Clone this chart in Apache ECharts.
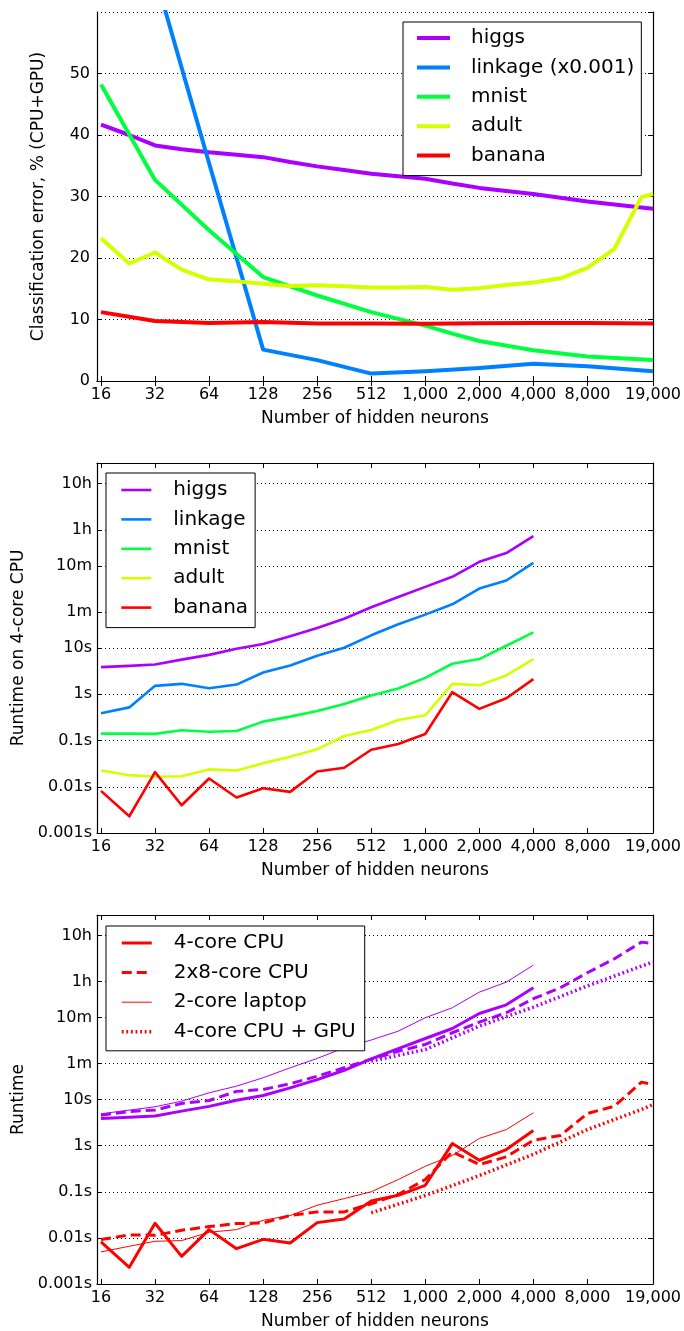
<!DOCTYPE html>
<html>
<head>
<meta charset="utf-8">
<title>Hidden neurons: error and runtime</title>
<script src="https://cdn.jsdelivr.net/npm/echarts@6/dist/echarts.min.js"></script>
<style>
  html, body { margin: 0; padding: 0; background: #fff; }
  #chart { width: 684px; height: 1331px; }
</style>
</head>
<body>
<div id="chart"></div>
<script>
// Hidden-layer sizes (half-octave steps, last one capped at 19,000)
const neurons = [16, 23, 32, 45, 64, 91, 128, 181, 256, 362, 512, 724, 1024, 1448,
  2048, 2896, 4096, 5793, 8192, 11585, 16384, 19000];

// Tick positions and labels on the neuron axis
const neuronTicks = [16, 32, 64, 128, 256, 512, 1024, 2048, 4096, 8192, 19000];
const neuronTickLabels = ['16', '32', '64', '128', '256', '512', '1,000', '2,000', '4,000', '8,000', '19,000'];

// Runtime axis ticks (seconds) and labels
const runtimeTicks = [0.001, 0.01, 0.1, 1, 10, 60, 600, 3600, 36000];
const runtimeTickLabels = ['0.001s', '0.01s', '0.1s', '1s', '10s', '1m', '10m', '1h', '10h'];

// Classification error, % (null = no reading at that size)
const errHiggs = [41.7, 40.0, 38.3, 37.7, 37.2, 36.8, 36.4, 35.6, 34.9, 34.3, 33.7, 33.3, 32.9, 32.1, 31.4, 30.9, 30.4, 29.8, 29.2, 28.7, 28.2, 28.0];
const errLinkage = [null, null, 66, null, 35.4, null, 5.1, null, 3.4, null, 1.2, null, 1.6, null, 2.1, null, 2.8, null, 2.4, null, null, 1.6];
const errMnist = [48.2, null, 32.7, null, 24.5, null, 16.9, null, 13.9, null, 11.2, null, 9.0, 7.7, 6.5, null, 5.0, null, 4.0, null, null, 3.4];
const errAdult = [23.2, 19.1, 20.9, 18.1, 16.5, 16.2, 15.8, 15.45, 15.55, 15.4, 15.2, 15.2, 15.3, 14.85, 15.1, 15.6, 16.0, 16.7, 18.4, 21.5, 29.9, 30.4];
const errBanana = [11.2, null, 9.75, null, 9.45, null, 9.6, null, 9.35, null, 9.35, null, 9.3, null, 9.4, null, 9.45, null, 9.45, null, null, 9.35];

// Runtime on 4-core CPU, seconds (16 .. 4,096 neurons)
const rtHiggs = [3.86, 4.1, 4.4, 5.6, 7.1, 9.6, 12.2, 17.9, 27, 43, 76, 127, 210, 346, 731, 1127, 2636];
const rtLinkage = [0.39, 0.52, 1.52, 1.68, 1.35, 1.62, 2.96, 4.2, 6.8, 10.1, 18.8, 32.5, 52.7, 88, 193, 288, 695];
const rtMnist = [0.141, 0.141, 0.139, 0.166, 0.155, 0.16, 0.256, 0.328, 0.436, 0.618, 0.94, 1.33, 2.26, 4.56, 5.76, 11.2, 21.8];
const rtAdult = [0.0225, 0.0178, 0.0164, 0.0169, 0.0237, 0.0225, 0.0324, 0.0446, 0.0643, 0.125, 0.169, 0.278, 0.351, 1.68, 1.57, 2.55, 5.76];
const rtBanana = [0.00815, 0.0023, 0.0207, 0.00398, 0.0151, 0.00584, 0.0093, 0.00775, 0.0214, 0.0257, 0.0631, 0.0838, 0.138, 1.107, 0.482, 0.82, 2.12];

// Runtime on other hardware, seconds
const higgsDual8 = [4.57, 5.5, 5.9, 8.2, 9.5, 15, 16.5, 21.9, 32, 48.7, 75, 111, 156, 280, 475, 760, 1530, 2650, 5600, 11270, 25800, 23800];
const higgsLaptop = [4.9, null, 6.95, 9.2, 13.96, 19.5, 29.6, 48.7, 77.5, 132, 195, 303, 592, 975, 2127, 3505, 8180];
const higgsGpu = [67.8, null, 121, null, 389, null, 1005, null, 2900, null, 7800, 9500];     // from 512 neurons
const bananaDual8 = [0.0092, 0.0116, 0.0114, 0.0146, 0.0176, 0.0204, 0.0211, 0.0305, 0.0366, 0.0366, 0.055, 0.087, 0.184, 0.735, 0.389, 0.571, 1.31, 1.66, 4.97, 7.16, 23.8, 21.1];
const bananaLaptop = [0.00497, 0.00658, 0.00844, 0.00873, 0.01324, 0.0151, 0.0241, 0.0305, 0.051, 0.0711, 0.1, 0.184, 0.357, 0.61, 1.43, 2.23, 5.15];
const bananaGpu = [0.0349, null, 0.0828, null, 0.224, null, 0.65, null, 2.23, null, 6.07, 7.79]; // from 512 neurons
const gpuStart = 10; // index of 512 in neurons

const PURPLE = '#aa00ff', BLUE = '#0080ff', GREEN = '#00ff40', YELLOW = '#d5ff00', RED = '#ff0000';
const FONT = 'DejaVu Sans';

function pairs(values, offset) {
  const out = [];
  values.forEach((v, i) => { if (v !== null) out.push([neurons[i + (offset || 0)], v]); });
  return out;
}
function lookup(ticks, labels, v) {
  const i = ticks.findIndex(t => Math.abs(t - v) / t < 1e-6);
  return i < 0 ? '' : labels[i];
}

const grids = [
  { left: 97, top: 12, width: 556, height: 369 },
  { left: 97, top: 463, width: 556, height: 370 },
  { left: 97, top: 915, width: 556, height: 369.5 }
];

const tickStyle = { inside: true, length: 5, lineStyle: { color: '#000', width: 1 } };
const lineBlack = { lineStyle: { color: '#000', width: 1.2 } };
const gridDots = { show: true, lineStyle: { color: '#000', width: 1, type: [1, 3] } };

const xAxes = [];
const yAxes = [];
grids.forEach((g, gi) => {
  const xBase = { type: 'log', logBase: 2, gridIndex: gi, min: 15.2, max: 19000,
    axisLine: lineBlack, splitLine: { show: false } };
  xAxes.push(Object.assign({}, xBase, {
    position: 'bottom',
    name: 'Number of hidden neurons', nameLocation: 'middle', nameGap: 29,
    nameTextStyle: { fontSize: 17, color: '#000', fontFamily: FONT },
    axisTick: Object.assign({ customValues: neuronTicks }, tickStyle),
    axisLabel: { customValues: neuronTicks, margin: 6, fontSize: 16, color: '#000', fontFamily: FONT,
      formatter: v => lookup(neuronTicks, neuronTickLabels, v) }
  }));
  xAxes.push(Object.assign({}, xBase, {
    position: 'top',
    axisTick: Object.assign({ customValues: neuronTicks }, tickStyle),
    axisLabel: { show: false }
  }));

  if (gi === 0) {
    const yBase = { type: 'value', gridIndex: gi, min: 0, max: 60, interval: 10, axisLine: lineBlack };
    yAxes.push(Object.assign({}, yBase, {
      position: 'left',
      name: 'Classification error, % (CPU+GPU)', nameLocation: 'middle', nameGap: 50, nameRotate: 90,
      nameTextStyle: { fontSize: 17, color: '#000', fontFamily: FONT },
      axisTick: tickStyle,
      axisLabel: { showMaxLabel: false, margin: 7, fontSize: 16, color: '#000', fontFamily: FONT },
      splitLine: gridDots
    }));
    yAxes.push(Object.assign({}, yBase, {
      position: 'right', axisTick: tickStyle, axisLabel: { show: false }, splitLine: { show: false }
    }));
  } else {
    const yBase = { type: 'log', logBase: 10, gridIndex: gi, min: 0.001, max: 100000, axisLine: lineBlack };
    yAxes.push(Object.assign({}, yBase, {
      position: 'left',
      name: gi === 1 ? 'Runtime on 4-core CPU' : 'Runtime', nameLocation: 'middle', nameGap: 70, nameRotate: 90,
      nameTextStyle: { fontSize: 17, color: '#000', fontFamily: FONT },
      axisTick: Object.assign({ customValues: runtimeTicks }, tickStyle),
      axisLabel: { customValues: runtimeTicks, margin: 5, fontSize: 16, color: '#000', fontFamily: FONT,
        formatter: v => lookup(runtimeTicks, runtimeTickLabels, v) },
      splitLine: gridDots
    }));
    yAxes.push(Object.assign({}, yBase, {
      position: 'right',
      axisTick: Object.assign({ customValues: runtimeTicks }, tickStyle),
      axisLabel: { show: false }, splitLine: { show: false }
    }));
  }
});

function line(name, data, grid, color, width, type) {
  return {
    type: 'line', name, data, xAxisIndex: grid * 2, yAxisIndex: grid * 2,
    symbol: 'none', silent: true, clip: true,
    lineStyle: { color, width, type: type || 'solid', join: 'round' },
    itemStyle: { color }
  };
}

const DASH = [10, 5], DOT = [1.8, 2.8];

const series = [
  // error vs size
  line('higgs', pairs(errHiggs), 0, PURPLE, 4),
  line('linkage (x0.001)', pairs(errLinkage), 0, BLUE, 4),
  line('mnist', pairs(errMnist), 0, GREEN, 4),
  line('adult', pairs(errAdult), 0, YELLOW, 4),
  line('banana', pairs(errBanana), 0, RED, 4),
  // runtime on 4-core CPU
  line('higgs@cpu4', pairs(rtHiggs), 1, PURPLE, 2.6),
  line('linkage@cpu4', pairs(rtLinkage), 1, BLUE, 2.6),
  line('mnist@cpu4', pairs(rtMnist), 1, GREEN, 2.6),
  line('adult@cpu4', pairs(rtAdult), 1, YELLOW, 2.6),
  line('banana@cpu4', pairs(rtBanana), 1, RED, 2.6),
  // runtime across hardware
  line('higgs@laptop', pairs(higgsLaptop), 2, PURPLE, 1),
  line('higgs@dual8', pairs(higgsDual8), 2, PURPLE, 3, DASH),
  line('higgs@gpu', pairs(higgsGpu, gpuStart), 2, PURPLE, 3.5, DOT),
  line('higgs@cpu4b', pairs(rtHiggs), 2, PURPLE, 3),
  line('2-core laptop', pairs(bananaLaptop), 2, RED, 1),
  line('2x8-core CPU', pairs(bananaDual8), 2, RED, 3, DASH),
  line('4-core CPU + GPU', pairs(bananaGpu, gpuStart), 2, RED, 3.5, DOT),
  line('4-core CPU', pairs(rtBanana), 2, RED, 3)
];

function legendBox(data, left, top, padding, itemWidth, textPad, gap) {
  return {
    data, orient: 'vertical', left, top, padding, itemWidth, itemHeight: 14, itemGap: gap,
    borderColor: '#000', borderWidth: 1, borderRadius: 0, backgroundColor: '#fff',
    selectedMode: false,
    // line sample only, drawn with the series' own width and dash
    itemStyle: { opacity: 0 },
    lineStyle: { width: 'inherit', type: 'inherit' },
    formatter: n => n.split('@')[0],
    textStyle: { fontSize: 20, lineHeight: 20, color: '#000', fontFamily: FONT, padding: [0, 0, 0, textPad] }
  };
}

const option = {
  animation: false,
  backgroundColor: '#fff',
  textStyle: { fontFamily: FONT },
  grid: grids,
  xAxis: xAxes,
  yAxis: yAxes,
  legend: [
    legendBox(['higgs', 'linkage (x0.001)', 'mnist', 'adult', 'banana'], 403, 22, [6, 7, 10, 12], 33, 16, 9.4),
    legendBox(['higgs@cpu4', 'linkage@cpu4', 'mnist@cpu4', 'adult@cpu4', 'banana@cpu4'], 106, 473, [7, 7, 10, 14], 30, 17, 9.4),
    legendBox(['4-core CPU', '2x8-core CPU', '2-core laptop', '4-core CPU + GPU'], 106, 926, [7, 9, 9, 14], 30, 17, 9.6)
  ],
  series
};

const chart = echarts.init(document.getElementById('chart'), null, { renderer: 'canvas' });
chart.setOption(option);
</script>
</body>
</html>
